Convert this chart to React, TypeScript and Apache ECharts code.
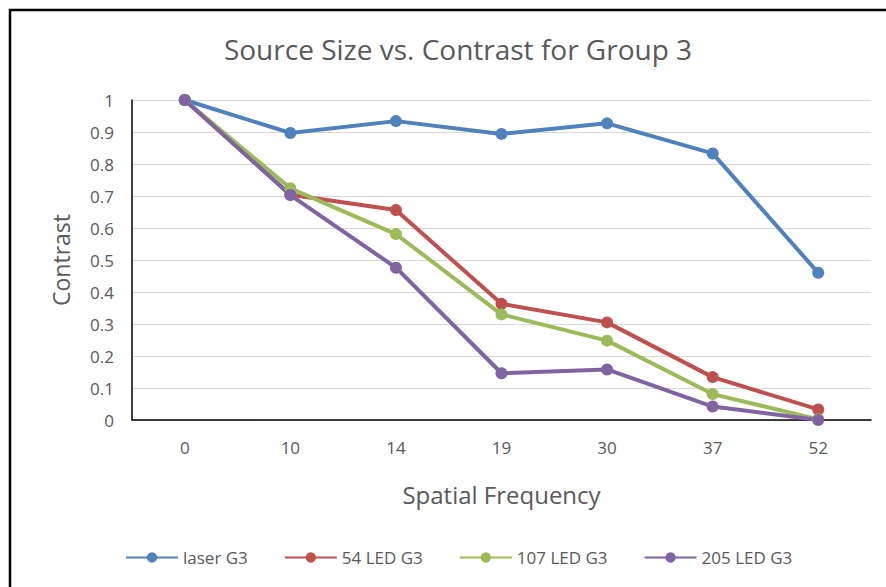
import React, { useEffect, useRef } from "react";
import * as echarts from "echarts";

const categories = ["0", "10", "14", "19", "30", "37", "52"];
const laserG3 = [1, 0.897, 0.934, 0.894, 0.927, 0.833, 0.46];
const led54G3 = [1, 0.704, 0.656, 0.363, 0.305, 0.134, 0.033];
const led107G3 = [1, 0.724, 0.581, 0.33, 0.248, 0.081, 0.002];
const led205G3 = [1, 0.703, 0.476, 0.146, 0.158, 0.042, 0];
const seriesNames = ["laser G3", "54 LED G3", "107 LED G3", "205 LED G3"];
const colors = ["#4f81bd", "#c0504d", "#9bbb59", "#8064a2"];

export default function App() {
  const ref = useRef<HTMLDivElement>(null);
  useEffect(() => {
    if (!ref.current) return;
    const chart = echarts.init(ref.current, null, { renderer: "svg" });
    const font = "Open Sans";
    const datas = [laserG3, led54G3, led107G3, led205G3];
    chart.setOption({
      animation: false,
      backgroundColor: "#ffffff",
      textStyle: { fontFamily: font },
      title: {
        text: "Source Size vs. Contrast for Group 3",
        left: 453,
        textAlign: "center",
        top: 30,
        textStyle: { color: "#595959", fontSize: 28, fontWeight: "normal", fontFamily: font },
      },
      legend: {
        data: seriesNames,
        left: 120,
        top: 544,
        itemWidth: 52,
        itemHeight: 13,
        itemGap: 36,
        textStyle: { color: "#595959", fontSize: 17, fontFamily: font },
      },
      grid: { left: 132, right: 15, top: 100, bottom: 167, containLabel: false },
      xAxis: {
        type: "category",
        data: categories,
        name: "Spatial Frequency",
        nameLocation: "middle",
        nameGap: 62,
        nameTextStyle: { color: "#595959", fontSize: 24, fontFamily: font },
        axisLine: { lineStyle: { color: "#000000", width: 1.5 } },
        axisTick: { show: false },
        axisLabel: { color: "#595959", fontSize: 17, margin: 19, fontFamily: font },
      },
      yAxis: {
        type: "value",
        min: 0,
        max: 1,
        interval: 0.1,
        name: "Contrast",
        nameLocation: "middle",
        nameRotate: 90,
        nameGap: 60,
        nameTextStyle: { color: "#595959", fontSize: 23, fontFamily: font },
        axisLine: { show: true, lineStyle: { color: "#000000", width: 1.5 } },
        axisTick: { show: false },
        axisLabel: { color: "#595959", fontSize: 17, margin: 18, fontFamily: font },
        splitLine: { lineStyle: { color: "#d9d9d9", width: 1 } },
      },
      series: seriesNames.map((name, i) => ({
        name,
        type: "line",
        data: datas[i],
        symbol: "circle",
        symbolSize: 12,
        lineStyle: { width: 4, color: colors[i] },
        itemStyle: { color: colors[i] },
      })),
      graphic: [
        {
          type: "rect",
          shape: { x: 10, y: 10, width: 900, height: 600 },
          style: { fill: "none", stroke: "#000000", lineWidth: 2.5 },
          silent: true,
        },
      ],
    });
    return () => chart.dispose();
  }, []);
  return (
    <div
      ref={ref}
      style={{ position: "fixed", left: 0, top: 0, width: 886, height: 587 }}
    />
  );
}
